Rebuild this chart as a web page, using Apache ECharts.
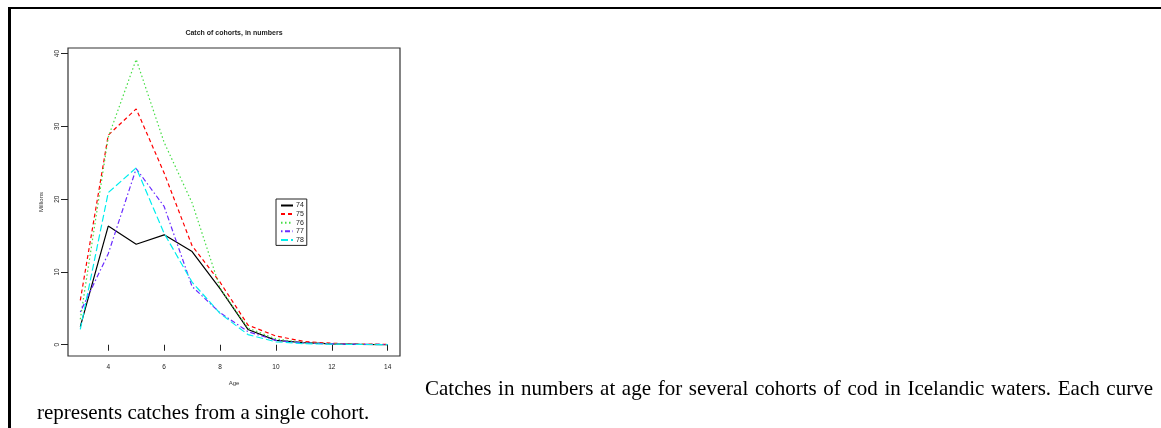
<!DOCTYPE html>
<html><head><meta charset="utf-8">
<script src="https://cdn.jsdelivr.net/npm/echarts@6/dist/echarts.min.js"></script>
<style>html,body{margin:0;padding:0;background:#fff}#c{width:1161px;height:428px}</style>
</head><body><div id="c"></div>
<script>
const ages = [3,4,5,6,7,8,9,10,11,12,13,14];
const cohorts = ['74','75','76','77','78'];
const c74 = [2.5,16.3,13.8,15.1,12.8,7.7,2.1,0.6,0.3,0.12,0.05,0.02];
const c75 = [6.1,28.8,32.4,23.6,13.6,8.6,2.7,1.2,0.45,0.2,0.1,0.05];
const c76 = [3.5,28.5,39.2,27.8,19.5,7.8,2.3,0.8,0.3,0.12,0.06,0.03];
const c77 = [4.5,12.5,24.2,19.0,8.0,4.4,1.8,0.6,0.25,0.12,0.06,0.03];
const c78 = [2.1,20.9,24.3,15.3,8.6,4.3,1.4,0.4,0.15,0.08,0.04,0.02];
const xTicks = [4,6,8,10,12,14];
const yTicks = [0,10,20,30,40];
const titleText = 'Catch of cohorts, in numbers';
const xName = 'Age';
const yName = 'Millions';
const caption1 = 'Catches in numbers at age for several cohorts of cod in Icelandic waters. Each curve';
const caption2 = 'represents catches from a single cohort.';

const values = [c74,c75,c76,c77,c78];
const colors = ['#000000','#ff0000','#44dd44','#6a2cff','#00eeee'];
const dashes = ['solid',[4,3],[1.5,2.5],[1.5,2.5,5,2.5],[7,3]];

const allV = values.flat();
const yLo = Math.min(...allV), yHi = Math.max(...allV);
const yPad = (yHi - yLo)*0.04;
const xPad = (ages[ages.length-1]-ages[0])*0.04;

const font = 'Liberation Sans, Arial, sans-serif';
const capFont = '21px "Liberation Serif", "Times New Roman", serif';

// justified first caption line
const ctx = document.createElement('canvas').getContext('2d');
ctx.font = capFont;
const words = caption1.split(' ');
const wW = words.map(w => ctx.measureText(w).width);
const L1 = 425, R1 = 1153;
const gap = (R1 - L1 - wW.reduce((a,b)=>a+b,0)) / (words.length - 1);
const capEls = [];
let cx = L1;
words.forEach((w,i) => {
  capEls.push({type:'text',x:cx,y:379,style:{text:w,font:capFont,fill:'#000',verticalAlign:'top'}});
  cx += wW[i] + gap;
});
capEls.push({type:'text',x:37,y:403,style:{text:caption2,font:capFont,fill:'#000',verticalAlign:'top'}});

const chart = echarts.init(document.getElementById('c'));
chart.setOption({
  animation:false,
  backgroundColor:'#fff',
  title:{text:titleText,left:234,top:30,padding:0,textAlign:'center',
    textStyle:{fontFamily:font,fontSize:7,fontWeight:'bold',color:'#222'}},
  grid:{left:68,top:48,width:332,height:308,show:true,borderColor:'#333',borderWidth:1.2,backgroundColor:'transparent'},
  legend:{orient:'vertical',left:276,top:199,padding:[3,3,2,4],itemGap:1.6,itemWidth:12,itemHeight:6,
    borderColor:'#222',borderWidth:1,backgroundColor:'#fff',
    itemStyle:{opacity:0,borderWidth:0},
    textStyle:{fontFamily:font,fontSize:7,color:'#222',padding:[0,0,0,-2]},
    data:cohorts},
  xAxis:{type:'value',min:ages[0]-xPad,max:ages[ages.length-1]+xPad,
    name:xName,nameLocation:'middle',nameGap:24,
    nameTextStyle:{fontFamily:font,fontSize:6,color:'#333'},
    axisLine:{show:false},
    axisTick:{show:true,length:6,inside:false,customValues:xTicks,lineStyle:{color:'#222'}},
    axisLabel:{fontFamily:font,fontSize:6.5,color:'#222',margin:8,customValues:xTicks},
    splitLine:{show:false}},
  yAxis:{type:'value',min:yLo-yPad,max:yHi+yPad,
    name:yName,nameLocation:'middle',nameGap:24,nameRotate:90,
    nameTextStyle:{fontFamily:font,fontSize:6,color:'#333'},
    axisLine:{show:false},
    axisTick:{show:true,length:7,customValues:yTicks,lineStyle:{color:'#222'}},
    axisLabel:{fontFamily:font,fontSize:6.5,color:'#222',margin:7,rotate:90,customValues:yTicks},
    splitLine:{show:false}},
  series: cohorts.map((n,i)=>({
    name:n,type:'line',symbol:'none',showSymbol:false,
    data:ages.map((a,j)=>[a,values[i][j]]),
    lineStyle:{color:colors[i],width:1.2,type:dashes[i]},
    itemStyle:{color:colors[i]}
  })),
  graphic:[
    {type:'rect',shape:{x:8,y:7,width:1153,height:2},style:{fill:'#000'}},
    {type:'rect',shape:{x:8,y:7,width:3,height:421},style:{fill:'#000'}}
  ].concat(capEls)
});
</script></body></html>
